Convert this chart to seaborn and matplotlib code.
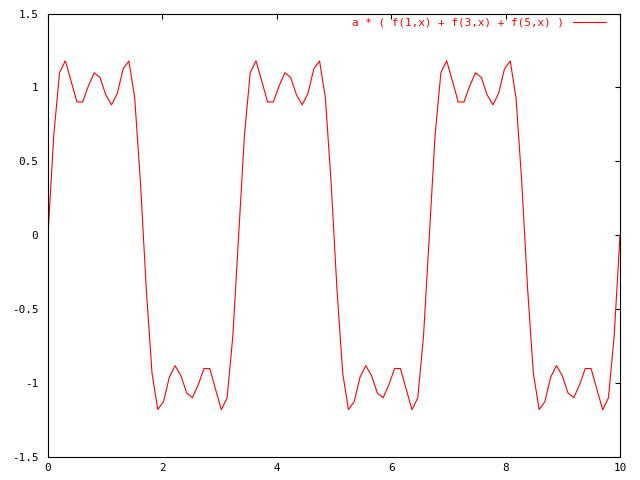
import matplotlib
matplotlib.use("Agg")
import matplotlib.pyplot as plt
import seaborn as sns
import pandas as pd

# sample positions (gnuplot: 100 samples over [0:10], step 10/99)
x_vals = [0.0, 0.1010, 0.2020, 0.3030, 0.4040, 0.5051, 0.6061, 0.7071, 0.8081, 0.9091,
          1.0101, 1.1111, 1.2121, 1.3131, 1.4141, 1.5152, 1.6162, 1.7172, 1.8182, 1.9192,
          2.0202, 2.1212, 2.2222, 2.3232, 2.4242, 2.5253, 2.6263, 2.7273, 2.8283, 2.9293,
          3.0303, 3.1313, 3.2323, 3.3333, 3.4343, 3.5354, 3.6364, 3.7374, 3.8384, 3.9394,
          4.0404, 4.1414, 4.2424, 4.3434, 4.4444, 4.5455, 4.6465, 4.7475, 4.8485, 4.9495,
          5.0505, 5.1515, 5.2525, 5.3535, 5.4545, 5.5556, 5.6566, 5.7576, 5.8586, 5.9596,
          6.0606, 6.1616, 6.2626, 6.3636, 6.4646, 6.5657, 6.6667, 6.7677, 6.8687, 6.9697,
          7.0707, 7.1717, 7.2727, 7.3737, 7.4747, 7.5758, 7.6768, 7.7778, 7.8788, 7.9798,
          8.0808, 8.1818, 8.2828, 8.3838, 8.4848, 8.5859, 8.6869, 8.7879, 8.8889, 8.9899,
          9.0909, 9.1919, 9.2929, 9.3939, 9.4949, 9.5960, 9.6970, 9.7980, 9.8990, 10.0]

y_vals = [0.0, 0.678, 1.100, 1.180, 1.042, 0.902, 0.901, 1.011, 1.099, 1.067,
          0.950, 0.882, 0.960, 1.125, 1.179, 0.932, 0.357, -0.357, -0.932, -1.179,
          -1.125, -0.960, -0.882, -0.950, -1.067, -1.099, -1.011, -0.901, -0.902, -1.042,
          -1.180, -1.100, -0.678,
          0.0, 0.678, 1.100, 1.180, 1.042, 0.902, 0.901, 1.011, 1.099, 1.067,
          0.950, 0.882, 0.960, 1.125, 1.179, 0.932, 0.357, -0.357, -0.932, -1.179,
          -1.125, -0.960, -0.882, -0.950, -1.067, -1.099, -1.011, -0.901, -0.902, -1.042,
          -1.180, -1.100, -0.678,
          0.0, 0.678, 1.100, 1.180, 1.042, 0.902, 0.901, 1.011, 1.099, 1.067,
          0.950, 0.882, 0.960, 1.125, 1.179, 0.932, 0.357, -0.357, -0.932, -1.179,
          -1.125, -0.960, -0.882, -0.950, -1.067, -1.099, -1.011, -0.901, -0.902, -1.042,
          -1.180, -1.100, -0.678,
          0.0]

x_ticks = [0, 2, 4, 6, 8, 10]
y_ticks = [-1.5, -1, -0.5, 0, 0.5, 1, 1.5]
y_ticklabels = ["-1.5", "-1", "-0.5", "0", "0.5", "1", "1.5"]
label = "a * ( f(1,x) + f(3,x) + f(5,x) )"

sns.set_style("white")
plt.rcParams['font.family'] = ['DejaVu Sans Mono']

df = pd.DataFrame({'x': x_vals, 'y': y_vals})

fig = plt.figure(figsize=(6.4, 4.8), dpi=100)
ax = fig.add_axes([48 / 640, 1 - 457 / 480, 572 / 640, 443.5 / 480])  # left, bottom, width, height

sns.lineplot(data=df, x='x', y='y', ax=ax, color='red', linewidth=0.8, label=label)

ax.set_xlim(0, 10)
ax.set_ylim(-1.5, 1.5)
ax.set_xticks(x_ticks)
ax.set_xticklabels([str(t) for t in x_ticks])
ax.set_yticks(y_ticks)
ax.set_yticklabels(y_ticklabels)
ax.set(xlabel='', ylabel='')
ax.tick_params(direction='in', length=3.6, width=0.8, top=True, right=True,
               labelsize=7.9, colors='black')
ax.tick_params(axis='y', pad=7)
ax.tick_params(axis='x', pad=4)
for spine in ax.spines.values():
    spine.set_color('black')
    spine.set_linewidth(0.8)

leg = ax.legend(loc='upper right', bbox_to_anchor=(0.983, 1.0), frameon=False,
                markerfirst=False, fontsize=7.9, handlelength=3.0, borderaxespad=0,
                labelcolor='red')

fig.savefig("out.png", dpi=100)
